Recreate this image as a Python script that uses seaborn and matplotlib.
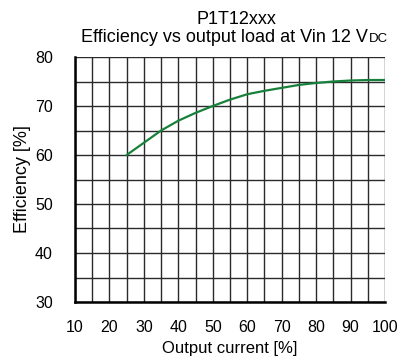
import matplotlib
matplotlib.use("Agg")
import matplotlib.pyplot as plt
import matplotlib.ticker as ticker
import seaborn as sns
import pandas as pd

load = [25, 30, 35, 40, 45, 50, 55, 60, 65, 70, 75, 80, 85, 90, 95, 100]
efficiency = [60.0, 62.5, 65.0, 67.0, 68.6, 70.0, 71.3, 72.4, 73.1, 73.7, 74.3, 74.7, 75.0, 75.2, 75.3, 75.3]

df = pd.DataFrame({'load': load, 'eff': efficiency})

sns.set_theme(style="white")
plt.rcParams['font.family'] = ['Liberation Sans', 'DejaVu Sans']

fig = plt.figure(figsize=(4, 3.6), dpi=100)
ax = fig.add_axes([75 / 400, 1 - 302 / 360, 310 / 400, 245 / 360])

sns.lineplot(data=df, x='load', y='eff', color='#17813c', linewidth=1.6, ax=ax)

ax.set_xlim(10, 100)
ax.set_ylim(30, 80)
ax.xaxis.set_major_locator(ticker.MultipleLocator(10))
ax.xaxis.set_minor_locator(ticker.MultipleLocator(5))
ax.yaxis.set_major_locator(ticker.MultipleLocator(10))
ax.yaxis.set_minor_locator(ticker.MultipleLocator(5))
ax.grid(True, which='both', color='#2a2a2a', linewidth=1.0)
ax.set_axisbelow(True)
ax.tick_params(which='both', length=0, labelsize=11.5, colors='black')
ax.tick_params(axis='x', pad=13)
ax.tick_params(axis='y', pad=16)
for s in ['top', 'right']:
    ax.spines[s].set_visible(False)
for s in ['left', 'bottom']:
    ax.spines[s].set_color('black')
    ax.spines[s].set_linewidth(1.8)

ax.set_xlabel('Output current [%]', fontsize=12, color='black', labelpad=4)
ax.set_ylabel('Efficiency [%]', fontsize=13, color='black', labelpad=3)

fig.text(236 / 400, 1 - 19 / 360, 'P1T12xxx', ha='center', va='center', fontsize=13, color='black')
t1 = fig.text(0, 1 - 38 / 360, 'Efficiency vs output load at Vin 12 V', ha='left', va='center',
              fontsize=13, color='black')
t2 = fig.text(0, 1 - 39 / 360, 'DC', ha='left', va='center', fontsize=9.5, color='black')

fig.canvas.draw()
r = fig.canvas.get_renderer()
w1 = t1.get_window_extent(r).width
w2 = t2.get_window_extent(r).width
start = 234 - (w1 + w2) / 2
t1.set_x(start / 400)
t2.set_x((start + w1 + 1) / 400)

fig.savefig('out.png', dpi=100)
